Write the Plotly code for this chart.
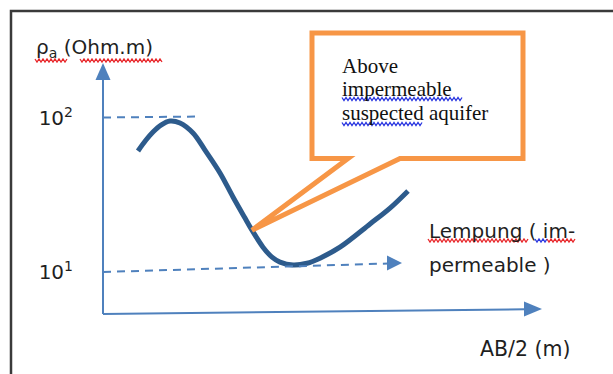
import numpy as np
import plotly.graph_objects as go

W, H = 613, 374

# Schematic VES sounding curve: AB/2 (schematic units) against apparent resistivity (Ohm.m)
ab2 = [3.5, 4.3, 5.0, 5.8, 6.7, 7.7, 9.0, 10.2, 11.7, 13.0, 14.2, 14.9,
       16.0, 16.9, 17.7, 19.0, 20.4, 21.7, 23.7, 26.7, 28.7, 30.5]
rho_a = [61.1, 71.9, 81.1, 90.0, 95.6, 92.8, 79.9, 61.9, 44.0, 30.7, 22.4, 18.7,
         14.5, 12.5, 11.6, 11.1, 11.4, 12.3, 14.5, 20.5, 26.0, 33.6]

# Resistivity ticks on the vertical axis
tick_vals = [10, 100]
tick_text = ["10<sup>1</sup>", "10<sup>2</sup>"]

# Point of the curve the callout refers to
aquifer_idx = 11

# Axis scale: pixel column of AB/2 = 0, pixels per unit, pixel row of 10^1, pixels per decade
X0_PX, PX_PER_UNIT = 103, 10.0
Y10_PX, DECADE_PX = 272, 154.0
x_range = [-X0_PX / PX_PER_UNIT, (W - X0_PX) / PX_PER_UNIT]
y_range = [1 - (H - Y10_PX) / DECADE_PX, 1 + Y10_PX / DECADE_PX]

AXIS_BLUE = "#4f81bd"
CURVE_BLUE = "#2d5b8c"
ORANGE = "#f79646"
SANS = "DejaVu Sans"
SERIF = "Liberation Serif"
INK = "#1f1f1f"


def paper(px, py):
    return px / W, 1 - py / H


def data_to_px(x, rho):
    return X0_PX + PX_PER_UNIT * x, Y10_PX - DECADE_PX * (np.log10(rho) - 1)


def path(points, close=False):
    parts = []
    for i, (px, py) in enumerate(points):
        u, v = paper(px, py)
        parts.append(("M" if i == 0 else "L") + f"{u:.5f},{v:.5f}")
    return " ".join(parts) + (" Z" if close else "")


def squiggle(x0, x1, y, amp=1.5, step=2.0):
    pts = []
    k = 0
    x = x0
    while x <= x1:
        pts.append((x, y + (amp if k % 2 else -amp)))
        x += step
        k += 1
    return path(pts)


fig = go.Figure()

fig.add_trace(go.Scatter(
    x=ab2, y=rho_a, mode="lines",
    line=dict(color=CURVE_BLUE, width=5, shape="spline", smoothing=1.0),
    hoverinfo="skip", showlegend=False,
))

shapes = []

# Outer frame (top and left edges)
shapes.append(dict(type="path", path=path([(11, H + 2), (11, 11), (W + 2, 11)]),
                   xref="paper", yref="paper", line=dict(color="#3a3a3a", width=2.5)))

# Vertical axis with arrowhead
shapes.append(dict(type="path", path=path([(103, 314), (103, 79)]),
                   xref="paper", yref="paper", line=dict(color=AXIS_BLUE, width=2)))
shapes.append(dict(type="path", path=path([(103, 63), (95.5, 80), (110.5, 80)], close=True),
                   xref="paper", yref="paper", fillcolor=AXIS_BLUE, line=dict(width=0)))

# Horizontal axis with arrowhead
shapes.append(dict(type="path", path=path([(103, 314), (525, 309.3)]),
                   xref="paper", yref="paper", line=dict(color=AXIS_BLUE, width=2)))
shapes.append(dict(type="path", path=path([(542, 309), (524, 301.5), (524, 316.5)], close=True),
                   xref="paper", yref="paper", fillcolor=AXIS_BLUE, line=dict(width=0)))

# Dashed guide at 10^2
shapes.append(dict(type="path", path=path([(103, 117.5), (201, 116.5)]),
                   xref="paper", yref="paper",
                   line=dict(color=AXIS_BLUE, width=2, dash="8px,6px")))

# Dashed guide at 10^1 with arrowhead
shapes.append(dict(type="path", path=path([(103, 272), (388, 263.5)]),
                   xref="paper", yref="paper",
                   line=dict(color=AXIS_BLUE, width=2, dash="8px,6px")))
shapes.append(dict(type="path", path=path([(402, 263), (387, 255.5), (387, 270.5)], close=True),
                   xref="paper", yref="paper", fillcolor=AXIS_BLUE, line=dict(width=0)))

# Callout box pointing at the curve
tip = data_to_px(ab2[aquifer_idx], rho_a[aquifer_idx])
callout = [(312, 33), (523, 33), (523, 158.5), (400, 158.5), tip, (348, 158.5), (312, 158.5)]
shapes.append(dict(type="path", path=path(callout, close=True),
                   xref="paper", yref="paper", fillcolor="white",
                   line=dict(color=ORANGE, width=5)))

# Spell-check underlines
RED, BLUE = "#e8262a", "#2a36e0"
for x0, x1, y, c in [(35, 68, 60.5, RED), (80, 163, 60.5, RED),
                     (428, 528, 240.5, RED), (535, 547, 240.5, BLUE), (547, 575, 240.5, RED),
                     (342, 463, 99, BLUE), (342, 423, 124, BLUE)]:
    shapes.append(dict(type="path", path=squiggle(x0, x1, y), xref="paper", yref="paper",
                       line=dict(color=c, width=1.3)))

annotations = []


def label(text, px, py, font, size, color=INK):
    u, v = paper(px, py)
    annotations.append(dict(text=text, x=u, y=v, xref="paper", yref="paper",
                            xanchor="left", yanchor="middle", showarrow=False,
                            font=dict(family=font, size=size, color=color)))


label("ρ<sub>a</sub> (Ohm.m)", 34, 48, SANS, 20)
label("AB/2 (m)", 478, 349, SANS, 20.5)
label("Lempung ( im-", 427, 231, SANS, 20)
label("permeable )", 427, 265, SANS, 20)
label("Above", 340, 66, SERIF, 21, "#111111")
label("impermeable", 340, 89, SERIF, 21, "#111111")
label("suspected aquifer", 340, 113, SERIF, 21, "#111111")

fig.update_layout(
    width=W, height=H,
    margin=dict(l=0, r=0, t=0, b=0),
    paper_bgcolor="white", plot_bgcolor="white",
    showlegend=False,
    shapes=shapes,
    annotations=annotations,
    xaxis=dict(range=x_range, visible=False, fixedrange=True),
    yaxis=dict(type="log", range=y_range, anchor="free", position=X0_PX / W,
               showgrid=False, zeroline=False, showline=False, ticks="",
               tickvals=tick_vals, ticktext=tick_text, ticklabelstandoff=30,
               tickfont=dict(family=SANS, size=20, color=INK), fixedrange=True),
)

fig.write_html("out.html")
